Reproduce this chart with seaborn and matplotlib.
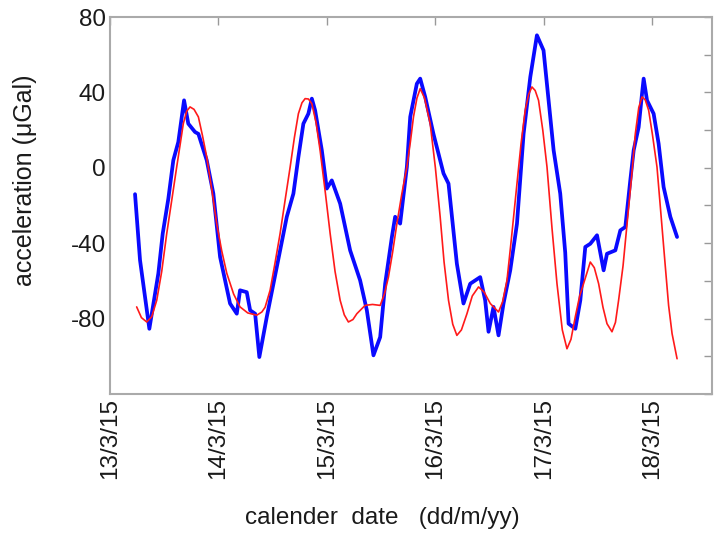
import pandas as pd
import matplotlib
matplotlib.use("Agg")
import matplotlib.pyplot as plt
import seaborn as sns

# measured gravity (blue) vs tide model (red); time in days since 13/3/15 00:00
obs_day = [0.231, 0.277, 0.363, 0.446, 0.486, 0.538, 0.584, 0.630, 0.683, 0.722,
           0.784, 0.815, 0.892, 0.953, 1.015, 1.107, 1.169, 1.199, 1.261, 1.292,
           1.338, 1.377, 1.446, 1.538, 1.630, 1.691, 1.737, 1.783, 1.829, 1.861,
           1.891, 1.953, 1.999, 2.045, 2.122, 2.214, 2.306, 2.368, 2.429, 2.491,
           2.537, 2.599, 2.629, 2.675, 2.737, 2.768, 2.829, 2.860, 2.906, 2.982,
           3.075, 3.121, 3.198, 3.259, 3.321, 3.413, 3.459, 3.490, 3.536, 3.582,
           3.628, 3.690, 3.752, 3.813, 3.875, 3.936, 3.997, 4.090, 4.151, 4.197,
           4.228, 4.290, 4.336, 4.382, 4.428, 4.490, 4.551, 4.582, 4.659, 4.705,
           4.751, 4.797, 4.828, 4.874, 4.905, 4.920, 4.951, 5.012, 5.058, 5.104,
           5.166, 5.228]
obs_val = [-14, -49, -85.4, -56, -35, -16.4, 4, 13.7, 35.8, 23.4,
           19, 18, 4, -13.7, -47.3, -72, -77.4, -65, -66, -75.6,
           -77.4, -100.4, -79, -52.6, -26, -13.7, 5.7, 23.4, 28.7, 36.7,
           30.5, 9.3, -11, -6.7, -19, -43.8, -59.7, -75.6, -99.5, -89.8,
           -61.5, -36.7, -26, -29.6, 0.4, 27, 44.6, 47.3, 37.6, 18,
           -3, -8.4, -50.9, -72, -61.5, -58, -70.3, -87, -73.8, -88.9,
           -72, -54.4, -29.7, 18, 48.2, 70.3, 62.3, 9.3, -13.7, -45,
           -82.7, -85.4, -70.3, -42, -40.3, -35.8, -54.4, -45.6, -43.8, -33.2,
           -31.4, -6.6, 9.3, 21.6, 39.3, 47.3, 35.8, 28.7, 12.8, -10.2,
           -26, -36.7]

model_day = [0.246, 0.29, 0.339, 0.385, 0.431, 0.477, 0.523, 0.57, 0.615, 0.646,
             0.676, 0.707, 0.738, 0.775, 0.815, 0.853, 0.892, 0.94, 0.984, 1.03,
             1.077, 1.14, 1.199, 1.27, 1.353, 1.40, 1.43, 1.476, 1.52, 1.568,
             1.615, 1.661, 1.70, 1.737, 1.77, 1.799, 1.83, 1.861, 1.90, 1.937,
             1.985, 2.030, 2.075, 2.122, 2.16, 2.198, 2.24, 2.276, 2.352, 2.42,
             2.491, 2.53, 2.567, 2.605, 2.645, 2.69, 2.737, 2.77, 2.798, 2.83,
             2.860, 2.90, 2.952, 3.0, 3.044, 3.08, 3.121, 3.16, 3.198, 3.24,
             3.291, 3.34, 3.398, 3.45, 3.506, 3.582, 3.62, 3.660, 3.70, 3.752,
             3.79, 3.828, 3.86, 3.890, 3.92, 3.951, 3.99, 4.029, 4.075, 4.121,
             4.17, 4.213, 4.25, 4.290, 4.33, 4.366, 4.428, 4.465, 4.505, 4.545,
             4.582, 4.628, 4.66, 4.689, 4.73, 4.767, 4.81, 4.843, 4.875, 4.905,
             4.935, 4.966, 5.0, 5.043, 5.08, 5.120, 5.15, 5.182, 5.228]
model_val = [-73.8, -79.5, -81.8, -79, -70.3, -55, -35, -17, 0.4, 12,
             23.4, 30, 32.3, 31, 27, 17, 5.7, -12, -29.7, -44,
             -56, -67, -73.8, -77, -78.2, -76.5, -74, -65, -51, -35,
             -17, 0.4, 16, 28.7, 34.5, 36.7, 36.5, 34, 24, 9.3,
             -13, -35, -55, -70.3, -78, -81.8, -80.5, -77.4, -73, -72.5,
             -73, -67, -58, -45, -29.7, -14, 0.4, 14, 27, 37,
             42, 37, 23.4, 0, -26, -50, -70.3, -83, -88.9, -86,
             -77.4, -68, -63.2, -66, -72, -76.5, -71, -59.7, -38, -8.4,
             13, 30.5, 39, 42.9, 41, 35.8, 20, 0.4, -32, -61.5,
             -86, -96, -91, -79, -68, -61.5, -50, -53, -61.5, -74,
             -82.7, -87, -82, -70.3, -52, -29.7, -4, 18, 32, 37.6,
             36, 30.5, 18, 0.4, -25, -52.6, -73, -88, -101.3]

date_labels = ["13/3/15", "14/3/15", "15/3/15", "16/3/15", "17/3/15", "18/3/15"]
y_ticks = [-120, -100, -80, -60, -40, -20, 0, 20, 40, 60, 80]
y_labels = ["", "", "-80", "", "-40", "", "0", "", "40", "", "80"]

t0 = pd.Timestamp("2015-03-13")
obs = pd.DataFrame({"time": t0 + pd.to_timedelta(obs_day, unit="D"), "acc": obs_val})
mod = pd.DataFrame({"time": t0 + pd.to_timedelta(model_day, unit="D"), "acc": model_val})

sns.set_style("white")
plt.rcParams["font.family"] = ["Liberation Sans", "DejaVu Sans"]

fig = plt.figure(figsize=(7.16, 5.4), dpi=100)
ax = fig.add_axes([0.1536, 0.2704, 0.8408, 0.6981])

sns.lineplot(data=obs, x="time", y="acc", sort=False, estimator=None,
             color="#0a0aff", linewidth=2.7, ax=ax)
sns.lineplot(data=mod, x="time", y="acc", sort=False, estimator=None,
             color="#ff1a1a", linewidth=1.2, ax=ax)

tick_pos = [t0 + pd.Timedelta(days=i) for i in range(len(date_labels))]
ax.set_xticks(tick_pos)
ax.set_xticklabels(date_labels, rotation=90, fontsize=17.5, color="#1a1a1a")
ax.set_xlim(t0, t0 + pd.Timedelta(days=5.55))

ax.set_yticks(y_ticks)
ax.set_yticklabels(y_labels, fontsize=17.5, color="#1a1a1a")
ax.set_ylim(-120, 80)

ax.tick_params(direction="in", length=6, width=1, color="#999999",
               top=True, right=True, pad=3)
for s in ax.spines.values():
    s.set_color("#aaaaaa")
    s.set_linewidth(1.5)

ax.set_ylabel("acceleration (μGal)", fontsize=18, color="#1a1a1a")
ax.yaxis.set_label_coords(-0.121, 0.568)
ax.set_xlabel("calender  date   (dd/m/yy)", fontsize=17.5, color="#1a1a1a")
ax.xaxis.set_label_coords(0.453, -0.30)

fig.savefig("out.png", dpi=100)
